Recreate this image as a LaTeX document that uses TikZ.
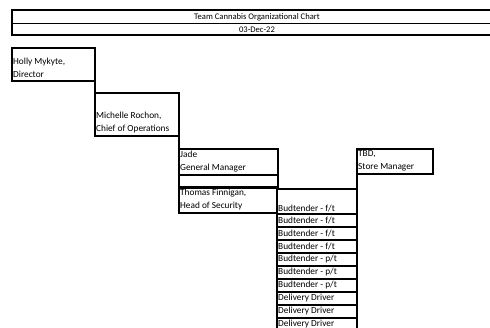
\documentclass[tikz,border=0pt]{standalone}
\usepackage{fontspec}
\setmainfont{Carlito}
\begin{document}
\begin{tikzpicture}[x=1pt,y=-1pt,
  box/.style={draw, line width=1.4pt, rectangle, inner sep=0pt, outer sep=0pt, anchor=north west},
  lbl/.style={inner sep=1pt, align=left, anchor=south west, font=\fontsize{9.3}{13}\selectfont},
  rowlbl/.style={inner sep=1pt, anchor=west, font=\fontsize{9.3}{10}\selectfont},
  hdr/.style={inner sep=0pt, font=\fontsize{8.6}{10}\selectfont},
  conn/.style={line width=1.4pt}]
\useasboundingbox (0,0) rectangle (490,328);
\begin{scope}
\clip (0,0) rectangle (490,328);
% header
\node[box, minimum width=494pt, minimum height=25pt] (head) at (12,10) {};
\draw[conn] (12,23.5) -- (506,23.5);
\node[hdr] (title) at (257,17) {Team Cannabis Organizational Chart};
\node[hdr] (date) at (257,30) {03-Dec-22};
% Holly
\node[box, minimum width=83pt, minimum height=33pt] (holly) at (12,48) {};
\node[lbl] (hollyt) at ([yshift=2pt]holly.south west) {Holly Mykyte,\\Director};
% Michelle
\node[box, minimum width=84pt, minimum height=43pt] (mich) at (95,93) {};
\node[lbl] (micht) at ([yshift=2pt]mich.south west) {Michelle Rochon,\\Chief of Operations};
\draw[conn] (holly.south east) -- (mich.north west);
% Jade
\node[box, minimum width=99pt, minimum height=26pt] (jade) at (179,149) {};
\node[lbl] (jadet) at ([yshift=2pt]jade.south west) {Jade\\General Manager};
\draw[conn] (mich.south east) -- (jade.north west);
\node[box, minimum width=99pt, minimum height=12pt] (gap) at (179,175) {};
% Thomas
\node[box, minimum width=98pt, minimum height=25pt] (thom) at (179,188) {};
\node[lbl] (thomt) at ([yshift=2pt]thom.south west) {Thomas Finnigan,\\Head of Security};
% TBD
\node[box, minimum width=76pt, minimum height=25pt] (tbd) at (357,149) {};
\node[lbl] (tbdt) at ([yshift=2pt]tbd.south west) {TBD,\\Store Manager};
% budtender column
\node[box, minimum width=80pt, minimum height=25pt] (b0) at (277,189) {};
\node[lbl] (b0t) at ([yshift=1pt]b0.south west) {Budtender - f/t};
\draw[conn] (tbd.south west) -- (b0.north east);
\foreach \i/\t in {1/{Budtender - f/t},2/{Budtender - f/t},3/{Budtender - f/t},4/{Budtender - p/t},5/{Budtender - p/t},6/{Budtender - p/t},7/{Delivery Driver},8/{Delivery Driver},9/{Delivery Driver}}{
  \node[box, minimum width=80pt, minimum height=13pt] (b\i) at (277,{214+13*(\i-1)}) {};
  \node[rowlbl] (b\i t) at ([yshift=0.5pt]b\i.west) {\t};
}
\end{scope}
\end{tikzpicture}
\end{document}
